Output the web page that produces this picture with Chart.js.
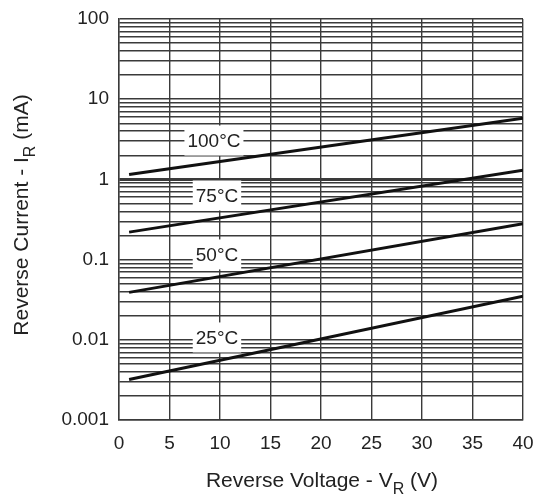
<!DOCTYPE html>
<html>
<head>
<meta charset="utf-8">
<script src="https://cdn.jsdelivr.net/npm/chart.js@4.4.1/dist/chart.umd.min.js"></script>
<style>
  body { margin: 0; background: #fff; }
  #chart { display: block; }
</style>
</head>
<body>
<canvas id="chart" width="536" height="494"></canvas>
<script>
const voltage = [1, 40];
const current100 = [1.15, 5.8];
const current75 = [0.22, 1.3];
const current50 = [0.039, 0.28];
const current25 = [0.0032, 0.035];

const seriesNames = ['100°C', '75°C', '50°C', '25°C'];
const labelX = [9.4, 9.7, 9.7, 9.7];
const labelY = [3.05, 0.63, 0.116, 0.0107];

const decades = [0.001, 0.01, 0.1, 1, 10, 100];
const decadeLabels = ['0.001', '0.01', '0.1', '1', '10', '100'];
const xTicks = [0, 5, 10, 15, 20, 25, 30, 35, 40];

const FONT = 'Liberation Sans, Arial, sans-serif';
const GRID = '#3a3a3a';

function points(ys) {
    return voltage.map((v, i) => ({ x: v, y: ys[i] }));
}

// every 1..9 step in each decade
const yTickValues = [];
decades.forEach((d, k) => {
    if (k === decades.length - 1) {
        yTickValues.push(d);
        return;
    }
    for (let m = 1; m <= 9; m++) {
        yTickValues.push(Math.round(d * m * 1e6) / 1e6);
    }
});

const curveLabels = {
    id: 'curveLabels',
    afterDatasetsDraw(chart) {
        const ctx = chart.ctx;
        const xs = chart.scales.x, ys = chart.scales.y;
        ctx.save();
        ctx.font = '19px ' + FONT;
        ctx.textAlign = 'center';
        ctx.textBaseline = 'middle';
        seriesNames.forEach((name, i) => {
            const px = xs.getPixelForValue(labelX[i]);
            const py = ys.getPixelForValue(labelY[i]);
            const w = ctx.measureText(name).width + 6;
            const h = 30;
            ctx.fillStyle = '#fff';
            ctx.fillRect(px - w / 2, py - h / 2, w, h);
            ctx.fillStyle = '#222';
            ctx.fillText(name, px, py + 1);
        });
        ctx.restore();
    }
};

// axis titles with subscripts
function drawSubTitle(ctx, parts, cx, cy) {
    const big = '21px ' + FONT, small = '16px ' + FONT;
    let total = 0;
    parts.forEach(p => {
        ctx.font = p.sub ? small : big;
        total += ctx.measureText(p.t).width;
    });
    let x = cx - total / 2;
    parts.forEach(p => {
        ctx.font = p.sub ? small : big;
        ctx.fillText(p.t, x, cy + (p.sub ? 7 : 0));
        x += ctx.measureText(p.t).width;
    });
}

const axisTitles = {
    id: 'axisTitles',
    afterDraw(chart) {
        const ctx = chart.ctx;
        ctx.save();
        ctx.fillStyle = '#222';
        ctx.textAlign = 'left';
        ctx.textBaseline = 'alphabetic';
        drawSubTitle(ctx, [{ t: 'Reverse Voltage - V' }, { t: 'R', sub: true }, { t: ' (V)' }], 322, 487);
        ctx.translate(28, 215);
        ctx.rotate(-Math.PI / 2);
        drawSubTitle(ctx, [{ t: 'Reverse Current - I' }, { t: 'R', sub: true }, { t: ' (mA)' }], 0, 0);
        ctx.restore();
    }
};

const lineStyle = {
    borderColor: '#111',
    borderWidth: 3,
    pointRadius: 0,
    fill: false,
    tension: 0
};

new Chart(document.getElementById('chart').getContext('2d'), {
    type: 'line',
    data: {
        datasets: [
            { label: seriesNames[0], data: points(current100), ...lineStyle },
            { label: seriesNames[1], data: points(current75), ...lineStyle },
            { label: seriesNames[2], data: points(current50), ...lineStyle },
            { label: seriesNames[3], data: points(current25), ...lineStyle }
        ]
    },
    options: {
        responsive: false,
        animation: false,
        layout: { padding: { left: 0, top: 19, right: 13, bottom: 0 } },
        plugins: {
            legend: { display: false },
            tooltip: { enabled: false }
        },
        scales: {
            x: {
                type: 'linear',
                min: 0,
                max: 40,
                afterFit: scale => {
                    scale.height = 74;
                    scale.paddingLeft = 0;
                    scale.paddingRight = 0;
                },
                afterBuildTicks: scale => { scale.ticks = xTicks.map(v => ({ value: v })); },
                grid: { color: GRID, lineWidth: 1.4, drawTicks: false },
                border: { color: GRID, width: 1.4 },
                ticks: {
                    color: '#222',
                    padding: 12,
                    maxRotation: 0,
                    font: { family: FONT, size: 19 }
                }
            },
            y: {
                type: 'logarithmic',
                min: 0.001,
                max: 100,
                afterFit: scale => {
                    scale.width = 119;
                    scale.paddingTop = 0;
                    scale.paddingBottom = 0;
                },
                afterBuildTicks: scale => { scale.ticks = yTickValues.map(v => ({ value: v })); },
                grid: {
                    color: GRID,
                    drawTicks: false,
                    lineWidth: c => (c.tick && c.tick.value === 1 ? 3 : 1.4)
                },
                border: { color: GRID, width: 1.4 },
                ticks: {
                    color: '#222',
                    padding: 10,
                    autoSkip: false,
                    font: { family: FONT, size: 19 },
                    callback: v => {
                        const k = decades.findIndex(d => Math.abs(d - v) < d * 1e-6);
                        return k >= 0 ? decadeLabels[k] : '';
                    }
                }
            }
        }
    },
    plugins: [curveLabels, axisTitles]
});
</script>
</body>
</html>
